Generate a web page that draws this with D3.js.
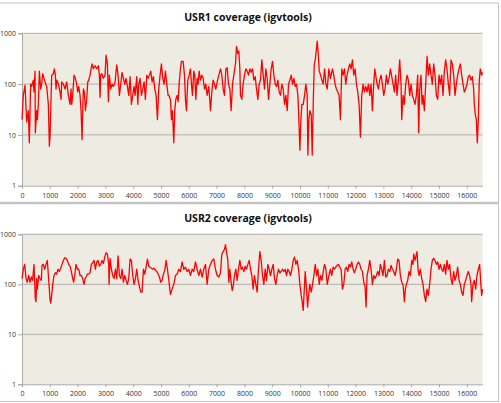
<!DOCTYPE html>
<html><head><meta charset="utf-8">
<script src="https://cdn.jsdelivr.net/npm/d3@7"></script>
<style>
html,body{margin:0;padding:0;background:#fff;}
svg{display:block;}
</style></head>
<body>
<svg id="c" width="501" height="403"></svg>
<script>
const titles = ["USR1 coverage (igvtools)", "USR2 coverage (igvtools)"];
const xTicks = d3.range(0, 16001, 1000);
const yTicks = [1, 10, 100, 1000];
const genomeLength = 16569;

const usr1Pos = [0,48,108,168,228,264,312,348,408,432,468,480,528,552,588,624,672,708,744,792,828,888,948,984,1008,1044,1068,1128,1164,1200,1224,1248,1308,1368,1404,1428,1488,1548,1608,1668,1728,1764,1788,1824,1872,1920,1968,2004,2040,2088,2124,2160,2184,2208,2244,2280,2328,2364,2400,2448,2484,2520,2568,2628,2688,2748,2784,2808,2832,2868,2928,2988,3024,3072,3108,3144,3192,3240,3288,3348,3408,3456,3504,3552,3600,3648,3696,3744,3792,3840,3888,3936,3984,4032,4068,4128,4164,4200,4248,4296,4344,4392,4440,4488,4536,4584,4632,4680,4728,4776,4824,4872,4920,4968,5016,5064,5112,5160,5208,5256,5280,5340,5376,5412,5436,5460,5496,5532,5580,5616,5652,5700,5736,5796,5844,5880,5916,5964,6012,6060,6096,6132,6180,6216,6252,6300,6336,6372,6420,6468,6516,6564,6612,6660,6720,6780,6828,6876,6924,6972,7020,7080,7140,7188,7236,7284,7332,7380,7428,7476,7524,7572,7620,7680,7716,7764,7800,7836,7860,7908,7956,8004,8052,8100,8148,8196,8244,8292,8340,8388,8436,8484,8532,8580,8628,8676,8724,8772,8820,8868,8916,8964,9012,9060,9108,9156,9204,9252,9300,9348,9396,9444,9492,9540,9588,9636,9684,9732,9780,9828,9876,9924,9960,9996,10032,10068,10116,10164,10212,10260,10284,10320,10356,10404,10440,10476,10512,10548,10584,10620,10656,10692,10740,10788,10836,10884,10932,10980,11040,11095,11167,11215,11263,11311,11359,11407,11455,11503,11551,11599,11647,11694,11742,11790,11838,11886,11934,11982,12030,12078,12126,12174,12222,12270,12318,12365,12413,12461,12509,12557,12605,12653,12689,12725,12773,12821,12868,12916,12964,13012,13060,13108,13156,13204,13252,13300,13348,13396,13443,13491,13539,13587,13635,13659,13707,13755,13803,13851,13899,13947,13995,14042,14090,14138,14186,14234,14270,14306,14354,14390,14426,14474,14522,14570,14618,14665,14713,14761,14809,14857,14905,14953,15001,15049,15097,15145,15193,15240,15288,15336,15384,15432,15480,15528,15576,15624,15672,15720,15768,15816,15864,15911,15959,16007,16055,16103,16151,16199,16247,16271,16307,16343,16379,16415,16450,16486,16534,16569];
const usr1Cov = [20,60,95,18,30,7,100,90,120,70,180,11,30,20,40,180,80,100,160,130,110,90,40,6,9,50,150,160,200,150,80,120,100,70,50,110,100,80,110,60,40,80,40,60,150,130,100,70,90,60,30,8,30,80,70,30,50,110,120,150,200,250,200,230,200,230,150,55,150,160,130,150,370,250,45,150,80,100,90,110,240,150,60,100,170,130,100,130,90,60,140,40,60,90,60,140,40,100,130,60,80,110,50,150,130,150,180,110,140,80,60,20,80,150,250,130,100,180,100,60,60,50,20,30,15,7,30,50,60,45,100,200,280,280,150,50,30,120,150,200,100,60,180,150,50,130,100,180,120,150,130,80,100,60,90,30,70,120,100,80,110,150,200,150,80,60,200,210,100,80,30,100,150,250,550,400,450,200,60,50,100,150,200,180,150,200,170,200,120,140,80,50,100,120,300,150,80,200,130,50,100,200,280,150,100,90,120,70,60,100,80,40,60,30,100,120,150,100,130,90,100,60,20,5,20,40,40,60,100,60,4,20,30,25,4,40,240,300,450,700,400,180,150,120,100,200,100,80,200,130,200,150,100,80,70,60,20,200,150,200,100,150,200,250,200,300,150,200,100,70,40,9,60,100,70,90,70,100,60,100,30,100,200,150,100,80,120,150,100,60,80,150,100,130,200,140,100,70,150,60,120,300,100,20,60,40,100,150,120,60,100,60,50,40,60,150,11,80,150,40,60,30,100,350,150,250,150,100,250,150,60,50,150,100,150,60,180,300,200,100,60,300,250,150,60,100,150,200,250,150,100,70,80,100,140,150,120,140,80,40,25,20,7,20,120,200,150,170];

const usr2Pos = [0,48,96,144,192,240,288,336,384,432,480,504,528,552,600,648,696,720,768,816,864,912,948,984,1008,1032,1068,1104,1152,1200,1248,1296,1344,1392,1440,1488,1536,1584,1632,1680,1728,1776,1824,1860,1896,1944,1992,2040,2088,2136,2184,2232,2268,2304,2352,2400,2448,2496,2544,2592,2640,2688,2736,2784,2832,2880,2928,2976,3024,3072,3120,3132,3168,3216,3264,3312,3360,3408,3456,3504,3552,3600,3648,3696,3744,3792,3840,3888,3936,3984,4032,4080,4128,4176,4224,4272,4320,4368,4416,4464,4512,4560,4608,4656,4704,4752,4800,4848,4896,4944,4992,5040,5088,5136,5184,5232,5290,5340,5400,5460,5520,5580,5640,5700,5760,5820,5880,5940,6000,6060,6120,6180,6240,6300,6360,6420,6480,6540,6600,6660,6720,6780,6840,6900,6960,7020,7080,7140,7188,7236,7284,7320,7356,7404,7440,7476,7524,7560,7596,7644,7692,7740,7788,7836,7884,7932,7980,8028,8076,8124,8172,8220,8268,8316,8364,8412,8460,8508,8556,8604,8652,8700,8748,8796,8844,8892,8940,8988,9036,9084,9132,9180,9228,9276,9324,9372,9420,9468,9516,9564,9612,9660,9708,9756,9804,9852,9900,9948,9996,10044,10092,10116,10164,10188,10236,10272,10308,10356,10404,10452,10500,10548,10596,10644,10692,10740,10788,10836,10884,10932,10980,11040,11095,11143,11191,11239,11287,11335,11383,11431,11479,11527,11575,11623,11670,11718,11766,11814,11862,11910,11958,12006,12054,12102,12150,12198,12245,12293,12341,12377,12413,12461,12509,12557,12605,12653,12701,12749,12797,12844,12892,12940,12988,13036,13084,13132,13180,13228,13276,13324,13372,13420,13467,13515,13563,13611,13659,13707,13755,13791,13827,13875,13923,13971,14019,14066,14090,14138,14186,14210,14246,14282,14330,14378,14426,14474,14522,14570,14618,14665,14713,14761,14809,14857,14905,14953,15001,15049,15097,15145,15193,15240,15288,15336,15384,15432,15480,15528,15576,15624,15672,15720,15768,15816,15864,15911,15959,16007,16055,16103,16151,16175,16223,16271,16319,16367,16415,16462,16498,16534,16569];
const usr2Cov = [130,200,250,130,110,150,110,140,120,250,50,45,130,80,150,130,120,240,250,200,250,300,150,80,50,42,60,100,150,170,160,200,180,210,250,300,340,330,300,250,230,180,130,110,150,250,200,200,150,150,130,100,130,140,160,160,170,250,270,300,200,280,300,230,250,300,260,350,430,400,250,100,330,200,150,130,200,130,370,150,130,200,110,150,120,100,130,320,300,150,100,130,200,120,90,70,70,200,160,220,320,230,220,210,200,210,190,180,160,140,110,120,160,190,300,200,110,63,80,100,150,160,200,180,280,200,220,180,200,150,200,180,280,200,150,200,140,200,250,100,200,250,300,320,200,150,140,170,400,450,500,620,450,300,110,200,110,75,90,150,200,120,200,300,200,220,180,230,200,250,300,200,150,80,150,100,70,200,450,300,150,100,200,120,250,200,150,200,250,130,100,150,200,170,180,200,180,200,150,200,180,150,200,300,350,250,300,200,100,60,40,30,100,180,80,35,60,100,70,100,150,250,150,200,100,150,120,180,250,200,100,150,200,150,220,200,220,240,250,220,200,80,100,200,220,180,250,220,280,200,170,200,250,280,250,200,180,110,90,35,150,200,300,200,100,150,130,150,180,150,250,200,150,300,140,150,200,180,240,200,180,150,200,320,300,150,110,100,45,80,100,120,180,150,300,250,400,300,400,450,200,150,200,130,100,60,45,80,60,100,200,300,330,300,250,280,200,250,200,180,250,160,300,200,250,130,100,180,120,150,220,120,100,70,60,100,120,150,180,150,100,45,100,120,80,150,200,250,120,60,80];

const series = [
  usr1Pos.map((p, i) => ({pos: p, cov: usr1Cov[i]})),
  usr2Pos.map((p, i) => ({pos: p, cov: usr2Cov[i]}))
];

const svg = d3.select("#c");
const W = 501;

// panel frames
const panels = [
  {top: 3, bottom: 202, titleY: 21, plotTop: 33.3, plotBottom: 185.7, labelY: 197},
  {top: 203.5, bottom: 402, titleY: 222, plotTop: 234.3, plotBottom: 384.3, labelY: 396}
];
const plotLeft = 22, plotRight = 482.6;

svg.append("rect").attr("x", -1).attr("y", 3).attr("width", 499.5).attr("height", 398.5)
  .attr("fill", "#fff").attr("stroke", "#c4c4c4").attr("stroke-width", 1);
svg.append("line").attr("x1", 0).attr("x2", 498).attr("y1", 203).attr("y2", 203)
  .attr("stroke", "#c4c4c4").attr("stroke-width", 2.5);

const x = d3.scaleLinear().domain([0, genomeLength]).range([plotLeft, plotRight]);

panels.forEach((p, k) => {
  const g = svg.append("g");
  const y = d3.scaleLog().domain([1, 1000]).range([p.plotBottom, p.plotTop]);

  g.append("rect").attr("x", plotLeft).attr("y", p.plotTop)
    .attr("width", plotRight - plotLeft).attr("height", p.plotBottom - p.plotTop)
    .attr("fill", "#eeebe3");

  // gridlines
  g.selectAll(".grid").data(yTicks.filter(t => t > 1)).enter().append("line")
    .attr("x1", plotLeft).attr("x2", plotRight)
    .attr("y1", d => y(d)).attr("y2", d => y(d))
    .attr("stroke", "#b3b0a8").attr("stroke-width", 1);

  // y axis
  const ya = g.append("g").attr("transform", `translate(${plotLeft},0)`)
    .call(d3.axisLeft(y).tickValues(yTicks).tickFormat(d3.format("d")).tickSize(4).tickPadding(2));
  ya.select(".domain").attr("stroke", "#a8a8a8");
  ya.selectAll(".tick line").attr("stroke", "#a8a8a8");
  ya.selectAll("text").attr("fill", "#333").style("font-family", "'Open Sans', sans-serif").style("font-size", "7px");

  // x axis
  const xa = g.append("g").attr("transform", `translate(0,${p.plotBottom})`)
    .call(d3.axisBottom(x).tickValues(xTicks).tickFormat(d3.format("d")).tickSize(3).tickPadding(4).tickSizeOuter(0));
  xa.select(".domain").attr("stroke", "#a8a8a8");
  xa.selectAll(".tick line").attr("stroke", "#a8a8a8");
  xa.selectAll("text").attr("fill", "#333").style("font-family", "'Open Sans', sans-serif").style("font-size", "7px");

  // line
  const line = d3.line().x(d => x(d.pos)).y(d => y(d.cov));
  g.append("path").datum(series[k]).attr("d", line)
    .attr("fill", "none").attr("stroke", "#ff0000").attr("stroke-width", 1.3)
    .attr("stroke-linejoin", "round");

  g.append("text").attr("x", 248).attr("y", p.titleY).attr("text-anchor", "middle")
    .style("font-family", "'Open Sans', sans-serif").style("font-weight", "bold").style("font-size", "10.5px")
    .attr("fill", "#111").text(titles[k]);
});
</script>
</body></html>
